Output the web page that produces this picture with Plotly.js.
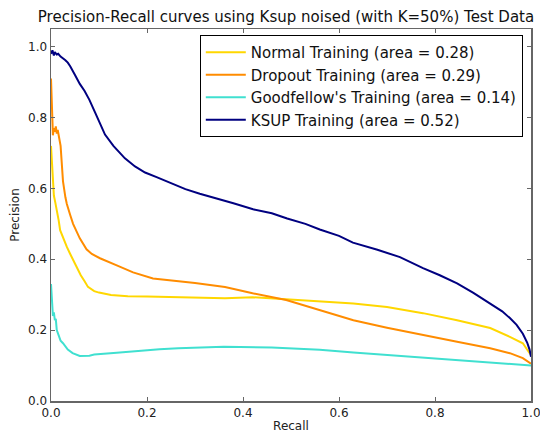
<!DOCTYPE html>
<html>
<head>
<meta charset="utf-8">
<script src="https://cdn.plot.ly/plotly-3.0.1.min.js"></script>
<style>html,body{margin:0;padding:0;background:#fff;}#chart{width:540px;height:433px;}</style>
</head>
<body>
<div id="chart"></div>
<script>
// Normal Training
var normalRecall = [0, 0.002, 0.004, 0.006, 0.009, 0.012, 0.016, 0.019, 0.025, 0.033, 0.04, 0.047, 0.054, 0.062, 0.07, 0.077, 0.09, 0.1, 0.125, 0.16, 0.2, 0.265, 0.3, 0.3625, 0.42, 0.49, 0.56, 0.63, 0.7, 0.727, 0.775, 0.846, 0.915, 0.956, 0.983, 0.995, 1.0];
var normalPrecision = [0.72, 0.66, 0.62, 0.58, 0.56, 0.54, 0.51, 0.482, 0.46, 0.435, 0.415, 0.395, 0.375, 0.355, 0.338, 0.322, 0.31, 0.306, 0.299, 0.296, 0.295, 0.293, 0.294, 0.29, 0.293, 0.287, 0.28, 0.275, 0.265, 0.259, 0.248, 0.228, 0.206, 0.181, 0.163, 0.139, 0.13];

// Dropout Training
var dropoutRecall = [0, 0.001, 0.002, 0.004, 0.006, 0.008, 0.01, 0.012, 0.014, 0.016, 0.018, 0.02, 0.022, 0.025, 0.03, 0.033, 0.04, 0.046, 0.06, 0.074, 0.085, 0.102, 0.137, 0.171, 0.2125, 0.265, 0.3, 0.3625, 0.42, 0.49, 0.56, 0.63, 0.7, 0.775, 0.846, 0.915, 0.956, 0.983, 1.0];
var dropoutPrecision = [0.91, 0.85, 0.79, 0.75, 0.77, 0.76, 0.775, 0.755, 0.765, 0.75, 0.735, 0.72, 0.68, 0.62, 0.575, 0.556, 0.525, 0.5, 0.459, 0.428, 0.415, 0.403, 0.383, 0.363, 0.346, 0.339, 0.333, 0.322, 0.304, 0.285, 0.256, 0.228, 0.207, 0.186, 0.167, 0.149, 0.135, 0.121, 0.105];

// Goodfellow's Training
var goodRecall = [0, 0.002, 0.004, 0.006, 0.008, 0.01, 0.012, 0.016, 0.02, 0.025, 0.035, 0.045, 0.06, 0.08, 0.09, 0.137, 0.16, 0.226, 0.265, 0.36, 0.46, 0.56, 0.63, 0.7, 0.78, 0.846, 0.93, 1.0];
var goodPrecision = [0.33, 0.27, 0.24, 0.25, 0.228, 0.232, 0.2, 0.185, 0.17, 0.163, 0.145, 0.135, 0.127, 0.128, 0.131, 0.136, 0.139, 0.146, 0.149, 0.153, 0.151, 0.145, 0.137, 0.13, 0.122, 0.115, 0.108, 0.1];

// KSUP Training
var ksupRecall = [0, 0.003, 0.006, 0.008, 0.012, 0.015, 0.02, 0.025, 0.03, 0.035, 0.04, 0.05, 0.06, 0.07, 0.08, 0.092, 0.1, 0.1125, 0.13, 0.154, 0.175, 0.196, 0.22, 0.252, 0.28, 0.31, 0.352, 0.38, 0.421, 0.46, 0.492, 0.53, 0.56, 0.6, 0.629, 0.68, 0.727, 0.775, 0.81, 0.846, 0.88, 0.915, 0.94, 0.956, 0.97, 0.983, 0.992, 0.997, 1.0];
var ksupPrecision = [0.98, 0.99, 0.975, 0.985, 0.978, 0.98, 0.972, 0.968, 0.962, 0.955, 0.945, 0.92, 0.895, 0.875, 0.85, 0.814, 0.79, 0.752, 0.72, 0.685, 0.662, 0.645, 0.632, 0.614, 0.598, 0.585, 0.57, 0.558, 0.541, 0.53, 0.515, 0.5, 0.484, 0.466, 0.447, 0.427, 0.406, 0.375, 0.355, 0.332, 0.305, 0.276, 0.253, 0.234, 0.215, 0.19, 0.165, 0.145, 0.125];

var seriesNames = ["Normal Training (area = 0.28)", "Dropout Training (area = 0.29)", "Goodfellow's Training (area = 0.14)", "KSUP Training (area = 0.52)"];
var seriesColors = ["#FFD700", "#FF8C00", "#40E0D0", "#000080"];

var xs = [normalRecall, dropoutRecall, goodRecall, ksupRecall];
var ys = [normalPrecision, dropoutPrecision, goodPrecision, ksupPrecision];

var traces = xs.map(function (x, i) {
  return {
    x: x, y: ys[i], type: 'scatter', mode: 'lines', name: seriesNames[i],
    line: {color: seriesColors[i], width: 2}
  };
});

var axisCommon = {
  showgrid: false, zeroline: false, showline: true, linecolor: '#666', linewidth: 1.5,
  mirror: 'allticks', ticks: 'inside', ticklen: 4, tickcolor: '#666', tickwidth: 1,
  ticklabeloverflow: 'allow',
  tickfont: {family: 'DejaVu Sans', size: 12, color: '#222'}
};

var layout = {
  width: 540, height: 433,
  margin: {l: 51, r: 9, t: 29, b: 32},
  paper_bgcolor: '#fff', plot_bgcolor: '#fff',
  font: {family: 'DejaVu Sans', color: '#222'},
  title: {text: 'Precision-Recall curves using Ksup noised (with K=50%) Test Data',
          font: {family: 'DejaVu Sans', size: 15, color: '#111'},
          x: 286 / 540, xanchor: 'center', y: 1 - 17 / 433, yanchor: 'middle'},
  xaxis: Object.assign({}, axisCommon, {range: [0, 1], tickvals: [0, 0.2, 0.4, 0.6, 0.8, 1.0],
          ticktext: ['0.0', '0.2', '0.4', '0.6', '0.8', '1.0'],
          title: {text: 'Recall', font: {family: 'DejaVu Sans', size: 12, color: '#222'}, standoff: 2}}),
  yaxis: Object.assign({}, axisCommon, {range: [0, 1.05], tickvals: [0, 0.2, 0.4, 0.6, 0.8, 1.0],
          ticktext: ['0.0', '0.2', '0.4', '0.6', '0.8', '1.0'],
          title: {text: 'Precision', font: {family: 'DejaVu Sans', size: 12, color: '#222'}, standoff: 6}}),
  showlegend: true,
  legend: {x: 0.31, y: 0.984, xanchor: 'left', yanchor: 'top', bgcolor: '#fff',
           bordercolor: '#000', borderwidth: 1, itemwidth: 40,
           font: {family: 'DejaVu Sans', size: 15, color: '#111'}}
};

Plotly.newPlot('chart', traces, layout, {displayModeBar: false, staticPlot: true});
</script>
</body>
</html>
